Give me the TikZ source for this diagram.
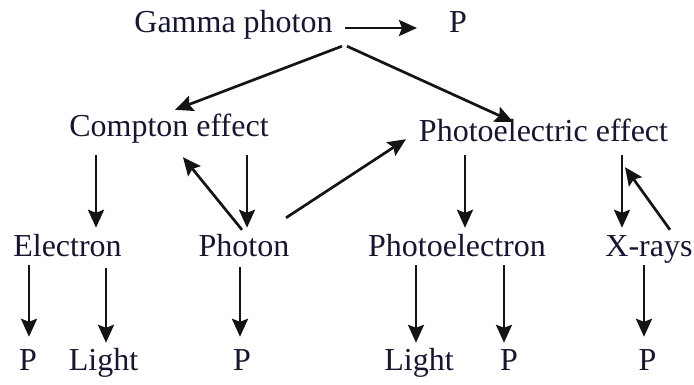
\documentclass[tikz,border=0pt]{standalone}
\usepackage{fontspec}
\setmainfont{Liberation Serif}
\usepackage{tikz}
\usetikzlibrary{arrows.meta,positioning}
\definecolor{ink}{HTML}{161630}

\tikzset{
  term/.style={inner sep=0pt, text height=21pt, text depth=7pt, anchor=base,
    text=ink, font=\fontsize{32pt}{38pt}\selectfont},
  arr/.style={line width=2.7pt, draw=black!92,
    -{Stealth[length=18pt,width=16pt,inset=3pt]}}
}

\begin{document}
\begin{tikzpicture}[x=1pt,y=-1pt]
  \useasboundingbox (0,0) rectangle (694,385);

  % nodes, placed at their baselines
  \node[term] (gamma) at (233.5,33) {Gamma photon};
  \node[term] (ptop) at (458,33) {P};
  \node[term] (compton) at (169,137) {Compton effect};
  \node[term] (photoel) at (543.5,142) {Photoelectric effect};
  \node[term] (electron) at (67.5,256) {Electron};
  \node[term] (photon) at (244,256) {Photon};
  \node[term] (photoelec) at (457,256) {Photoelectron};
  \node[term] (xrays) at (649,256) {X-rays};
  \node[term] (pa) at (28,370) {P};
  \node[term] (lighta) at (103.5,370) {Light};
  \node[term] (pb) at (242,370) {P};
  \node[term] (lightb) at (419,370) {Light};
  \node[term] (pc) at (509,370) {P};
  \node[term] (pd) at (647.5,370) {P};

  % top
  \draw[arr] ([xshift=111.5pt,yshift=-2pt]gamma.center) -- ([xshift=-41pt,yshift=-2pt]ptop.center);
  \draw[arr] ([xshift=108.5pt,yshift=-6pt]gamma.south) -- ([xshift=6pt,yshift=6pt]compton.north);
  \draw[arr] ([xshift=113.5pt,yshift=-6pt]gamma.south) -- ([xshift=-30.5pt,yshift=-1pt]photoel.north);

  % middle
  \draw[arr] ([xshift=-73pt,yshift=-11pt]compton.south) -- ([xshift=28.5pt,yshift=7pt]electron.north);
  \draw[arr] ([xshift=78pt,yshift=-11pt]compton.south) -- ([xshift=3pt,yshift=7pt]photon.north);
  \draw[arr] ([xshift=-2pt,yshift=5pt]photon.north) -- ([xshift=14pt,yshift=-13pt]compton.south);
  \draw[arr] ([xshift=42pt,yshift=17pt]photon.north) -- ([xshift=-137.5pt,yshift=10pt]photoel.south);
  \draw[arr] ([xshift=-78.5pt,yshift=-6pt]photoel.south) -- ([xshift=8pt,yshift=7pt]photoelec.north);
  \draw[arr] ([xshift=78.5pt,yshift=-6pt]photoel.south) -- ([xshift=-27pt,yshift=7pt]xrays.north);
  \draw[arr] ([xshift=21pt,yshift=5pt]xrays.north) -- ([xshift=81.5pt,yshift=-18pt]photoel.south);

  % bottom
  \draw[arr] ([xshift=-38.5pt,yshift=-2pt]electron.south) -- ([xshift=1pt,yshift=12pt]pa.north);
  \draw[arr] ([xshift=38.5pt,yshift=-5pt]electron.south) -- ([xshift=2.5pt,yshift=6pt]lighta.north);
  \draw[arr] ([xshift=-4pt,yshift=-4pt]photon.south) -- ([xshift=-2pt,yshift=12pt]pb.north);
  \draw[arr] ([xshift=-41pt,yshift=-2pt]photoelec.south) -- ([xshift=-3pt,yshift=6pt]lightb.north);
  \draw[arr] ([xshift=47pt,yshift=-2pt]photoelec.south) -- ([xshift=-5pt,yshift=6pt]pc.north);
  \draw[arr] ([xshift=-5pt,yshift=-2pt]xrays.south) -- ([xshift=-3.5pt,yshift=12pt]pd.north);
\end{tikzpicture}
\end{document}
